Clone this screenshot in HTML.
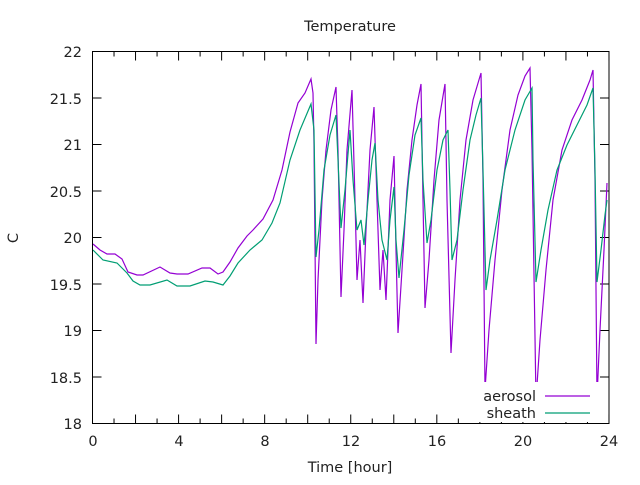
<!DOCTYPE html>
<html><head><style>
body{margin:0;background:#fff;width:640px;height:480px;overflow:hidden}
text{font-family:"DejaVu Sans","Liberation Sans",sans-serif;font-size:14.5px;fill:#222}
</style></head><body>
<svg width="640" height="480" xmlns="http://www.w3.org/2000/svg">
<rect width="640" height="480" fill="#fff"/>
<text x="350" y="31" text-anchor="middle">Temperature</text>
<text x="350" y="472" text-anchor="middle">Time [hour]</text>
<text x="18" y="238" text-anchor="middle" transform="rotate(-90 18 238)">C</text>
<g id="ticks" stroke="#000" stroke-width="1"></g>
<g text-anchor="end">
<text x="82" y="57">22</text>
<text x="82" y="104">21.5</text>
<text x="82" y="150">21</text>
<text x="82" y="197">20.5</text>
<text x="82" y="243">20</text>
<text x="82" y="290">19.5</text>
<text x="82" y="336">19</text>
<text x="82" y="383">18.5</text>
<text x="82" y="429">18</text>
</g>
<g text-anchor="middle">
<text x="93" y="446">0</text>
<text x="179" y="446">4</text>
<text x="265" y="446">8</text>
<text x="351" y="446">12</text>
<text x="437" y="446">16</text>
<text x="523" y="446">20</text>
<text x="609" y="446">24</text>
</g>
<polyline id="a" fill="none" stroke="#9400d3" stroke-width="1.2"/>
<polyline id="s" fill="none" stroke="#009e73" stroke-width="1.2"/>
<rect x="92.5" y="51.5" width="516.5" height="372" fill="none" stroke="#000" stroke-width="1"/>
<rect x="474" y="382" width="130" height="40" fill="#fff"/>
<text x="536" y="401" text-anchor="end">aerosol</text>
<text x="536" y="418" text-anchor="end">sheath</text>
<line x1="545" y1="396" x2="590" y2="396" stroke="#9400d3" stroke-width="1.2"/>
<line x1="545" y1="413" x2="590" y2="413" stroke="#009e73" stroke-width="1.2"/>
</svg>
<script>
var a=[[93,244],[100,250],[107,254],[115,254],[122,259],[128,272],[137,275],[143,275],[160,267],[170,273],[177,274],[188,274],[202,268],[210,268],[218,274],[223,272],[230,262],[238,248],[247,236],[253,230],[263,219],[273,200],[282,170],[290,132],[298,103],[305,93],[311,79],[313,93],[314,145],[316,344],
[318,280],[322,200],[326,150],[331,110],[336,87],[338,150],[341,297],[344,230],[347,150],[352,90],[355,200],[357,280],[360,240],[363,303],[366,230],[370,150],[374,107],[377,200],[380,290],[383,250],[386,300],[390,200],[394,156],[396,250],[398,333],[402,270],[407,190],[412,140],[417,105],[421,84],[423,200],[425,308],[429,260],[434,180],[439,120],[445,84],[447,200],[451,353],[455,280],[460,200],[466,140],[473,100],[481,73],[483,180],[485,390],[489,330],[495,260],[502,190],[510,130],[518,95],[525,76],[530,68],[532,150],[536,400],[540,340],[546,270],[553,200],[562,150],[572,120],[582,100],[590,80],[593,70],[595,180],[597,398],[600,330],[604,250],[607,183]];
var s=[[93,250],[103,260],[117,263],[127,273],[133,281],[140,285],[150,285],[167,280],[177,286],[190,286],[205,281],[213,282],[223,285],[230,276],[238,263],[250,250],[262,240],[272,223],[280,203],[290,160],[300,130],[311,104],[314,130],[316,257],
[319,230],[324,170],[330,135],[336,115],[338,160],[341,228],[345,190],[350,130],[353,180],[357,230],[361,220],[364,245],[368,200],[372,160],[375,143],[378,200],[382,240],[387,260],[390,220],[394,187],[396,240],[399,278],[404,230],[409,175],[415,135],[421,118],[423,180],[427,243],[431,220],[437,170],[443,140],[448,130],[450,190],[452,260],[457,240],[463,190],[470,140],[476,115],[481,98],[483,170],[486,290],[490,260],[497,220],[505,170],[515,130],[525,100],[532,88],[533,160],[536,282],[541,250],[548,210],[557,170],[567,145],[577,125],[587,105],[593,88],[595,170],[597,282],[601,250],[605,215],[607,200]];
document.getElementById('a').setAttribute('points',a.map(p=>p.join(',')).join(' '));
document.getElementById('s').setAttribute('points',s.map(p=>p.join(',')).join(' '));
var g=document.getElementById('ticks'),h='';
for(var i=0;i<=24;i++){var x=92.5+i*21.52;var L=(i%2==0)?9:5;
h+='<line x1="'+x+'" y1="423.5" x2="'+x+'" y2="'+(423.5-L)+'"/><line x1="'+x+'" y1="51.5" x2="'+x+'" y2="'+(51.5+L)+'"/>';}
for(var j=0;j<=8;j++){var y=51.5+j*46.5;
h+='<line x1="92.5" y1="'+y+'" x2="101.5" y2="'+y+'"/><line x1="609" y1="'+y+'" x2="600" y2="'+y+'"/>';}
g.innerHTML=h;
</script>
</body></html>
